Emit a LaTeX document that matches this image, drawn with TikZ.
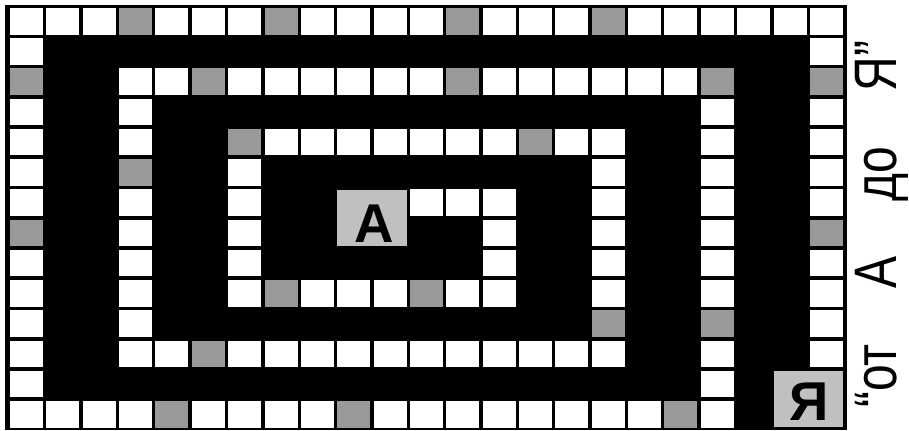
\documentclass[tikz,border=0pt]{standalone}
\usepackage{fontspec}
\newfontfamily\boxfont{Liberation Sans}
% one cell of the spiral track: style, column, row
\newcommand{\cellxy}[3]{\fill[#1] ({10+36.36*#2},{8+30.23*#3}) rectangle ++(33,26.5);}
\begin{document}
\begin{tikzpicture}[x=0.75pt,y=0.75pt,yscale=-1,xscale=1,
    whitecell/.style={fill=white},
    graycell/.style={fill={rgb, 255:red, 153; green, 153; blue, 153}},
    letterbox/.style={fill={rgb, 255:red, 192; green, 192; blue, 192},inner sep=0pt,minimum width=52pt,minimum height=42.3pt},
    boxletter/.style={inner sep=0pt,font=\boxfont\bfseries\fontsize{41}{41}\selectfont}]
    \useasboundingbox (0,0) rectangle (909,430);
    
    %Shape: Rectangle [id:frame] 
    \fill[black] (5,5) rectangle (847,430);
    
    %Shape: spiral track, outer turn
    \foreach \c in {0,...,22} {\cellxy{whitecell}{\c}{0}}
    \foreach \r in {1,...,13} {\cellxy{whitecell}{0}{\r}}
    \foreach \c in {1,...,19} {\cellxy{whitecell}{\c}{13}}
    \foreach \r in {1,...,11} {\cellxy{whitecell}{22}{\r}}
    %Shape: spiral track, middle turns
    \foreach \r in {2,...,12} {\cellxy{whitecell}{19}{\r}}
    \foreach \c in {3,...,18} {\cellxy{whitecell}{\c}{2}}
    \foreach \r in {3,...,11} {\cellxy{whitecell}{3}{\r}}
    \foreach \c in {4,...,16} {\cellxy{whitecell}{\c}{11}}
    \foreach \r in {4,...,10} {\cellxy{whitecell}{16}{\r}}
    \foreach \c in {6,...,15} {\cellxy{whitecell}{\c}{4}}
    %Shape: spiral track, inner turn
    \foreach \r in {5,...,9} {\cellxy{whitecell}{6}{\r}}
    \foreach \c in {7,...,13} {\cellxy{whitecell}{\c}{9}}
    \foreach \r in {6,...,8} {\cellxy{whitecell}{13}{\r}}
    \foreach \c in {11,12} {\cellxy{whitecell}{\c}{6}}
    
    %Shape: gray cells
    \foreach \c/\r in {3/0,7/0,12/0,16/0,0/2,5/2,12/2,19/2,22/2,6/4,14/4,3/5,0/7,22/7,7/9,11/9,16/10,19/10,5/11,4/13,9/13,18/13}
        {\cellxy{graycell}{\c}{\r}}
    
    %Shape: start and finish boxes
    \node[letterbox] (abox) at (372,217.7) {};
    \node[letterbox] (yabox) at (808.3,398.9) {};
    % Text Node
    \node[boxletter,anchor=base] (aletter) at (374,242) {A};
    % Text Node
    \node[boxletter,anchor=base] (yaletter) at (809.5,420) {Я};
    % Text Node
    \node[rotate=90,anchor=base,inner sep=0pt,font=\boxfont\fontsize{45}{45}\selectfont] (caption) at (896,224)
        {\scalebox{0.8}[1]{“от\hspace{52pt}А\hspace{52pt}до\hspace{52pt}Я”}};
\end{tikzpicture}
\end{document}
